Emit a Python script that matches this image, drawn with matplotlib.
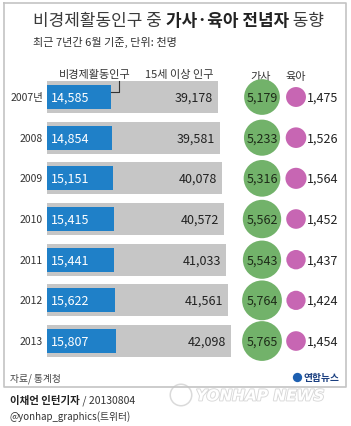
"""Yonhap-style infographic: non-economically active population, housework/childcare."""
import matplotlib

matplotlib.use("Agg")
import matplotlib.patheffects as pe  # noqa: E402
import matplotlib.pyplot as plt  # noqa: E402

plt.rcParams["font.family"] = ["Noto Sans CJK KR", "DejaVu Sans"]

# data (thousand persons, June of each year)
years = ["2007년", "2008", "2009", "2010", "2011", "2012", "2013"]
inactive = [14585, 14854, 15151, 15415, 15441, 15622, 15807]
pop15 = [39178, 39581, 40078, 40572, 41033, 41561, 42098]
housework = [5179, 5233, 5316, 5562, 5543, 5764, 5765]
childcare = [1475, 1526, 1564, 1452, 1437, 1424, 1454]

BLUE = "#1f80c8"
GRAY = "#c6c6c6"
GREEN = "#72b26a"
PINK = "#c766b3"
W, H = 351, 427

fig = plt.figure(figsize=(W / 100, H / 100), dpi=100)
fig.patch.set_facecolor("white")

# full-figure axes in pixel units for titles / frame / footer
ax = fig.add_axes([0, 0, 1, 1])
ax.set_xlim(0, W)
ax.set_ylim(H, 0)
ax.axis("off")

# frame
ax.plot([3.5, 346, 346, 3.5, 3.5], [3.5, 3.5, 388, 388, 3.5], color="#c4c4c4", lw=1.2)

# title: light part + bold part
t1 = ax.text(33, 21, "비경제활동인구 중 ", fontsize=12.2, color="#3a3a3a",
             weight="light", va="center", ha="left")
t2 = ax.annotate("가사·육아 전념자", xy=(1, 0), xycoords=t1, fontsize=12.2,
                 color="#222222", weight="bold", va="bottom", ha="left")
ax.annotate(" 동향", xy=(1, 0), xycoords=t2, fontsize=12.2, color="#3a3a3a",
            weight="light", va="bottom", ha="left")
ax.text(33, 42, "최근 7년간 6월 기준, 단위: 천명", fontsize=8, color="#333333",
        va="center", ha="left", style="italic")

# column headers
hdr = dict(fontsize=8, color="#333333", va="center", ha="center")
ax.text(95, 75, "비경제활동인구", **hdr)
ax.text(179, 75, "15세 이상 인구", **hdr)
ax.text(261, 77, "가사", **hdr)
ax.text(296, 77, "육아", **hdr)
ax.plot([182, 182], [83, 88], color="#333333", lw=0.8)

# bar axes: value-scaled horizontal bars
row0, step = 98, 40.67
top_px = row0 - step / 2
bot_px = row0 + 6.5 * step
scale = 0.00436  # px per thousand
vmax = 50000
bx = fig.add_axes([47 / W, 1 - bot_px / H, vmax * scale / W, (bot_px - top_px) / H])
bx.set_xlim(0, vmax)
bx.set_ylim(6.5, -0.5)
bx.axis("off")
rows = range(len(years))
bx.barh(rows, pop15, height=0.79, color=GRAY, left=0)
bx.barh(rows, inactive, height=0.59, color=BLUE, left=0)
for i in rows:
    bx.text(900, i, f"{inactive[i]:,}", color="white", fontsize=9, va="center", ha="left")
    bx.text(pop15[i] - 1100, i, f"{pop15[i]:,}", color="#222222", fontsize=9,
            va="center", ha="right")
    bx.text(-900, i, years[i], color="#333333", fontsize=7.5, va="center", ha="right",
            clip_on=False)
# leader from header to first blue bar
bx.plot([inactive[0], inactive[0] + 1850, inactive[0] + 1850], [-0.13, -0.13, -0.39],
        color="#333333", lw=0.8, clip_on=False)

# circle axes (same rows, pixel x)
cx = fig.add_axes([0, 1 - bot_px / H, 1, (bot_px - top_px) / H])
cx.set_xlim(0, W)
cx.set_ylim(6.5, -0.5)
cx.axis("off")
px2pt = 0.72
cx.scatter([262] * len(years), list(rows),
           s=[(v * 0.0069 * px2pt) ** 2 for v in housework], color=GREEN, lw=0)
cx.scatter([296] * len(years), list(rows),
           s=[(v * 0.0135 * px2pt) ** 2 for v in childcare], color=PINK, lw=0)
for i in rows:
    cx.text(262, i, f"{housework[i]:,}", color="#1d2b18", fontsize=9, va="center",
            ha="center")
    cx.text(306.5, i, f"{childcare[i]:,}", color="#222222", fontsize=9, va="center",
            ha="left")

# footer
ax.text(10, 379, "자료/ 통계청", fontsize=7, color="#444444", va="center", ha="left",
        style="italic")
ax.scatter([297], [378], s=45, color="#1d5fb0", lw=0)
ax.text(303, 378, "연합뉴스", fontsize=7, weight="bold", color="#1a3f80", va="center",
        ha="left")

# watermark
ax.scatter([181], [396], s=240, facecolor="none", edgecolor="#dadada", lw=1.1)
ax.text(196, 397, "YONHAP NEWS", fontsize=11, color="white", weight="bold",
        style="italic", va="center", ha="left", family="DejaVu Sans",
        path_effects=[pe.withStroke(linewidth=1.3, foreground="#d8d8d8")])

b1 = ax.text(10, 401, "이채언 인턴기자", fontsize=7.5, weight="bold", color="#222222",
             va="center", ha="left")
ax.annotate(" / 20130804", xy=(1, 0), xycoords=b1, fontsize=7.5, color="#333333",
            va="bottom", ha="left")
ax.text(10, 417, "@yonhap_graphics(트위터)", fontsize=7, color="#333333", va="center",
        ha="left")

fig.savefig("out.png", dpi=100)
plt.close(fig)
